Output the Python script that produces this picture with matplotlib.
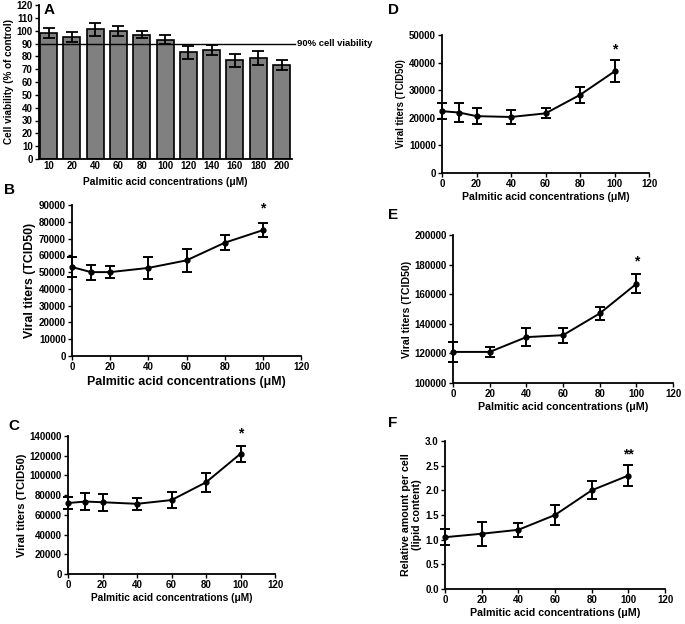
import matplotlib
matplotlib.use("Agg")
import matplotlib.pyplot as plt
from matplotlib.ticker import FormatStrFormatter

plt.rcParams['font.family'] = ['Liberation Sans', 'DejaVu Sans']
plt.rcParams['font.weight'] = 'bold'
plt.rcParams['axes.labelweight'] = 'bold'

W, H = 685, 624
XLAB = 'Palmitic acid concentrations (\u03bcM)'
VIRAL = 'Viral titers (TCID50)'

# Panel A - cell viability
conc_a = ['10', '20', '40', '60', '80', '100', '120', '140', '160', '180', '200']
viab = [98, 95, 101, 100, 97, 93, 83, 85, 77, 79, 73]
viab_err = [4, 4, 5, 4, 3, 3.5, 5, 4, 5, 5.5, 4]

# Panel B
conc_b = [0, 10, 20, 40, 60, 80, 100]
titer_b = [53000, 50000, 50000, 52500, 57000, 67500, 75000]
err_b = [6000, 4500, 3500, 6500, 7000, 4500, 4000]

# Panel C
conc_c = [0, 10, 20, 40, 60, 80, 100]
titer_c = [72000, 73500, 72800, 71200, 75000, 93000, 122000]
err_c = [6500, 8300, 8500, 6200, 7800, 9800, 8300]

# Panel D
conc_d = [0, 10, 20, 40, 60, 80, 100]
titer_d = [22400, 21900, 20600, 20300, 21600, 28300, 36800]
err_d = [2800, 3500, 3000, 2400, 1800, 3000, 4000]

# Panel E
conc_e = [0, 20, 40, 60, 80, 100]
titer_e = [121000, 121000, 131000, 132300, 147000, 167000]
err_e = [7000, 3200, 6000, 5000, 4200, 6500]

# Panel F - lipid content
conc_f = [0, 20, 40, 60, 80, 100]
lipid = [1.05, 1.12, 1.2, 1.5, 2.0, 2.3]
lipid_err = [0.16, 0.24, 0.14, 0.2, 0.18, 0.21]


def add_ax(fig, left, top, right, bottom):
    return fig.add_axes([left / W, 1 - bottom / H, (right - left) / W, (bottom - top) / H])


def style(ax):
    for s in ['top', 'right']:
        ax.spines[s].set_visible(False)
    for s in ['left', 'bottom']:
        ax.spines[s].set_linewidth(1.3)
    ax.tick_params(direction='out', length=3, width=1, labelsize=7, pad=1.5)
    for lab in ax.get_xticklabels() + ax.get_yticklabels():
        lab.set_fontweight('bold')


def line_panel(fig, box, x, y, err, ylim, yticks, ylabel, star, star_y, letter, letter_xy,
               xlab_size=7.6, ylab_size=7.6, xlab_pad=2, ylab_pad=2):
    ax = add_ax(fig, *box)
    ax.errorbar(x, y, yerr=err, color='black', marker='o', markersize=3.5, lw=1.4,
                capsize=3.5, capthick=1.4, elinewidth=1.4, clip_on=False, zorder=3)
    ax.set_xlim(0, 120)
    ax.set_xticks([0, 20, 40, 60, 80, 100, 120])
    ax.set_ylim(*ylim)
    ax.set_yticks(yticks)
    ax.set_xlabel(XLAB, fontsize=xlab_size, labelpad=xlab_pad)
    ax.set_ylabel(ylabel, fontsize=ylab_size, labelpad=ylab_pad)
    style(ax)
    ax.text(x[-1], star_y, star, ha='center', va='center', fontsize=10)
    fig.text(letter_xy[0] / W, 1 - letter_xy[1] / H, letter, fontsize=11, fontweight='bold',
             ha='left', va='center')
    return ax


fig = plt.figure(figsize=(W / 100, H / 100), dpi=100)

# A
ax = add_ax(fig, 39, 5, 292, 159)
pos = list(range(len(conc_a)))
ax.bar(pos, viab, width=0.73, color='#808080', edgecolor='black', linewidth=1.2, zorder=2)
ax.errorbar(pos, viab, yerr=viab_err, fmt='none', ecolor='black', elinewidth=1.3,
            capsize=4, capthick=1.3, zorder=3)
ax.axhline(90, xmin=0, xmax=1.012, color='black', lw=1, clip_on=False, zorder=4)
ax.text(10.65, 90, '90% cell viability', fontsize=6.8, fontweight='bold', va='center', ha='left')
ax.set_xlim(-0.41, 10.45)
ax.set_xticks(pos)
ax.set_xticklabels(conc_a)
ax.set_ylim(0, 120)
ax.set_yticks(range(0, 121, 10))
ax.set_xlabel(XLAB, fontsize=7.4, labelpad=4)
ax.set_ylabel('Cell viability (% of control)', fontsize=7.1, labelpad=2)
style(ax)
ax.tick_params(axis='x', length=0)
fig.text(44 / W, 1 - 10 / H, 'A', fontsize=11, fontweight='bold', ha='left', va='center')

# B
line_panel(fig, (72, 205, 301, 356), conc_b, titer_b, err_b, (0, 90000),
           range(0, 90001, 10000), VIRAL, '*', 88000, 'B', (4, 190),
           xlab_size=8.9, ylab_size=8.9, xlab_pad=3)
# C
line_panel(fig, (68, 436, 275, 574), conc_c, titer_c, err_c, (0, 140000),
           range(0, 140001, 20000), VIRAL, '*', 142500, 'C', (8, 426),
           xlab_size=7.3, ylab_size=8)
# D
line_panel(fig, (442, 35, 649, 173), conc_d, titer_d, err_d, (0, 50000),
           range(0, 50001, 10000), VIRAL, '*', 44800, 'D', (388, 10),
           xlab_size=7.6, ylab_size=6.9)
# E
line_panel(fig, (453, 235, 673, 383), conc_e, titer_e, err_e, (100000, 200000),
           range(100000, 200001, 20000), VIRAL, '*', 182000, 'E', (388, 215),
           xlab_size=7.7, ylab_size=7.6)
# F
axf = line_panel(fig, (445, 441, 665, 589), conc_f, lipid, lipid_err, (0, 3.0),
                 [0.0, 0.5, 1.0, 1.5, 2.0, 2.5, 3.0], 'Relative amount per cell\n(lipid content)',
                 '**', 2.73, 'F', (388, 423), xlab_size=7.7, ylab_size=7.7)
axf.yaxis.set_major_formatter(FormatStrFormatter('%.1f'))
for lab in axf.get_yticklabels():
    lab.set_fontweight('bold')

fig.savefig('out.png', dpi=100)
